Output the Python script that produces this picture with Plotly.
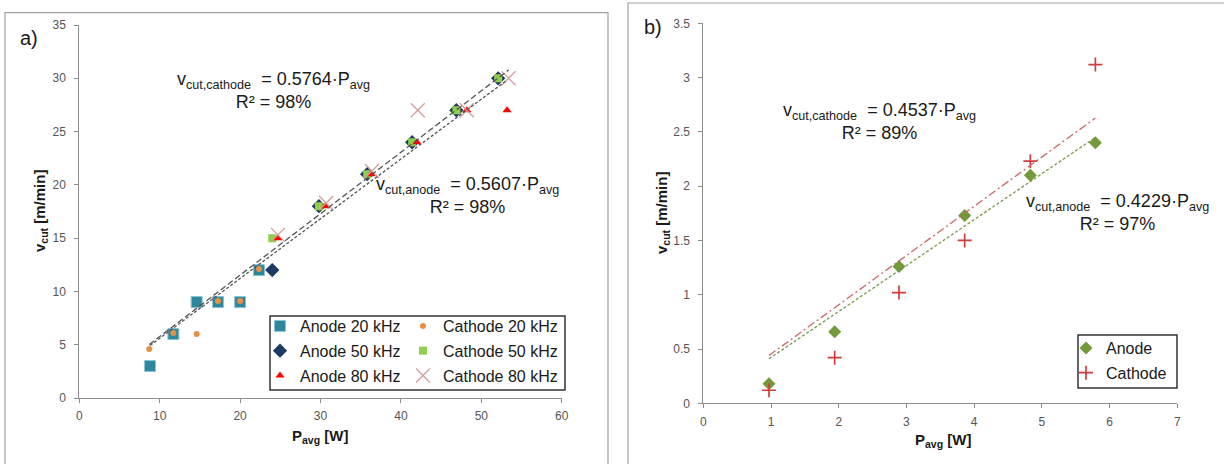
import plotly.graph_objects as go

W, H = 1224, 464

# ---------------- data: panel a ----------------
a20_x = [8.8, 11.7, 14.6, 17.25, 20.0, 22.35]
a20_y = [3.0, 6.0, 9.0, 9.0, 9.0, 12.0]
c20_x = [8.7, 11.7, 14.6, 17.25, 20.0, 22.35]
c20_y = [4.6, 6.1, 6.0, 9.1, 9.1, 12.1]
a50_x = [24.0, 29.8, 35.8, 41.4, 46.9, 52.1]
a50_y = [12.0, 18.0, 21.0, 24.0, 27.0, 30.0]
c50_x = [24.0, 29.8, 35.8, 41.4, 46.9, 52.1]
c50_y = [15.0, 18.0, 21.0, 24.0, 27.0, 30.0]
a80_x = [24.7, 30.6, 36.3, 42.0, 48.2, 53.2]
a80_y = [15.0, 18.0, 21.0, 24.0, 27.0, 27.0]
c80_x = [24.7, 30.7, 36.4, 42.1, 48.2, 53.4]
c80_y = [15.3, 18.3, 21.3, 27.0, 27.0, 30.0]
slope_a_cathode = 0.5764
slope_a_anode = 0.5607

# ---------------- data: panel b ----------------
b_x = [0.97, 1.94, 2.89, 3.86, 4.83, 5.79]
b_anode = [0.18, 0.66, 1.26, 1.73, 2.10, 2.40]
b_cathode = [0.12, 0.42, 1.02, 1.50, 2.23, 3.12]
slope_b_cathode = 0.4537
slope_b_anode = 0.4229

x_ticks_a = list(range(0, 61, 10))
y_ticks_a = list(range(0, 36, 5))
x_ticks_b = list(range(0, 8))
y_ticks_b = [0, 0.5, 1, 1.5, 2, 2.5, 3, 3.5]


def fx(px):
    return px / W


def fy(py):
    return 1 - py / H


FONT = "Liberation Sans, Arial, sans-serif"
fig = go.Figure()

# panel a scatter traces (Excel series order)
fig.add_trace(go.Scatter(x=a20_x, y=a20_y, mode="markers", name="Anode 20 kHz",
                         legend="legend", legendgroup="a20",
                         marker=dict(symbol="square", size=11, color="#2f879d",
                                     line=dict(color="#8cc3d2", width=1)),
                         xaxis="x", yaxis="y"))
fig.add_trace(go.Scatter(x=c20_x, y=c20_y, mode="markers", name="Cathode 20 kHz",
                         legend="legend2", legendgroup="c20",
                         marker=dict(symbol="circle", size=6, color="#e98f45"),
                         xaxis="x", yaxis="y"))
fig.add_trace(go.Scatter(x=a50_x, y=a50_y, mode="markers", name="Anode 50 kHz",
                         legend="legend", legendgroup="a50",
                         marker=dict(symbol="diamond", size=11, color="#1c3a64"),
                         xaxis="x", yaxis="y"))
fig.add_trace(go.Scatter(x=c50_x, y=c50_y, mode="markers", name="Cathode 50 kHz",
                         legend="legend2", legendgroup="c50",
                         marker=dict(symbol="square", size=8, color="#8fcf4c"),
                         xaxis="x", yaxis="y"))
fig.add_trace(go.Scatter(x=a80_x, y=a80_y, mode="markers", name="Anode 80 kHz",
                         legend="legend", legendgroup="a80",
                         marker=dict(symbol="triangle-up", size=8, color="#ff0000"),
                         xaxis="x", yaxis="y"))
fig.add_trace(go.Scatter(x=c80_x, y=c80_y, mode="markers", name="Cathode 80 kHz",
                         legend="legend2", legendgroup="c80",
                         marker=dict(symbol="x-thin-open", size=14, color="#d49a9a",
                                     line=dict(color="#d49a9a", width=1.2)),
                         xaxis="x", yaxis="y"))

# panel a trendlines (through origin, over data range)
cat_a_x = c20_x + c50_x + c80_x
an_a_x = a20_x + a50_x + a80_x
xa_c = [min(cat_a_x), max(cat_a_x)]
xa_a = [min(an_a_x), max(an_a_x)]
fig.add_trace(go.Scatter(x=xa_c, y=[slope_a_cathode * v for v in xa_c], mode="lines",
                         showlegend=False, hoverinfo="skip",
                         line=dict(color="#555555", width=1.3, dash="6px,3px"),
                         xaxis="x", yaxis="y"))
fig.add_trace(go.Scatter(x=xa_a, y=[slope_a_anode * v for v in xa_a], mode="lines",
                         showlegend=False, hoverinfo="skip",
                         line=dict(color="#555555", width=1.3, dash="3px,2px"),
                         xaxis="x", yaxis="y"))

# panel b
fig.add_trace(go.Scatter(x=b_x, y=b_anode, mode="markers", name="Anode",
                         legend="legend3", legendgroup="ba",
                         marker=dict(symbol="diamond", size=10, color="#73993a"),
                         xaxis="x2", yaxis="y2"))
fig.add_trace(go.Scatter(x=b_x, y=b_cathode, mode="markers", name="Cathode",
                         legend="legend3", legendgroup="bc",
                         marker=dict(symbol="cross-thin-open", size=10, color="#d23c3c",
                                     line=dict(color="#d23c3c", width=1.7)),
                         xaxis="x2", yaxis="y2"))
xb = [min(b_x), max(b_x)]
fig.add_trace(go.Scatter(x=xb, y=[slope_b_cathode * v for v in xb], mode="lines",
                         showlegend=False, hoverinfo="skip",
                         line=dict(color="#c9676a", width=1.3, dash="8px,3px,2px,3px"),
                         xaxis="x2", yaxis="y2"))
fig.add_trace(go.Scatter(x=xb, y=[slope_b_anode * v for v in xb], mode="lines",
                         showlegend=False, hoverinfo="skip",
                         line=dict(color="#7b9a48", width=1.3, dash="3px,2px"),
                         xaxis="x2", yaxis="y2"))

axis_common = dict(showline=True, linecolor="#8c8c8c", linewidth=1, ticks="outside",
                   tickcolor="#8c8c8c", ticklen=4, showgrid=False, zeroline=False,
                   tickfont=dict(family=FONT, size=12, color="#555555"), fixedrange=True)

leg_font = dict(family=FONT, size=16, color="#1a1a1a")
fig.update_layout(
    width=W, height=H, autosize=False,
    margin=dict(l=0, r=0, t=0, b=0, pad=0, autoexpand=False),
    paper_bgcolor="white", plot_bgcolor="white",
    font=dict(family=FONT, color="#1a1a1a"),
    xaxis=dict(domain=[fx(79.3), fx(561.7)], range=[0, 60], tickvals=x_ticks_a,
               anchor="y", ticklabelstandoff=3, **axis_common),
    yaxis=dict(domain=[fy(398), fy(25)], range=[0, 35], tickvals=y_ticks_a,
               anchor="x", ticklabelstandoff=6, **axis_common),
    xaxis2=dict(domain=[fx(703.3), fx(1177.3)], range=[0, 7], tickvals=x_ticks_b,
                anchor="y2", ticklabelstandoff=3, **axis_common),
    yaxis2=dict(domain=[fy(403.3), fy(23.3)], range=[0, 3.5], tickvals=y_ticks_b,
                anchor="x2", ticklabelstandoff=6, **axis_common),
    legend=dict(x=fx(260), y=fy(309), xanchor="left", yanchor="top", font=leg_font,
                bgcolor="rgba(0,0,0,0)", borderwidth=0, tracegroupgap=1),
    legend2=dict(x=fx(403), y=fy(309), xanchor="left", yanchor="top", font=leg_font,
                 bgcolor="rgba(0,0,0,0)", borderwidth=0, tracegroupgap=1),
    legend3=dict(x=fx(1066), y=fy(331), xanchor="left", yanchor="top", font=leg_font,
                 bgcolor="rgba(0,0,0,0)", borderwidth=0, tracegroupgap=1),
    showlegend=True,
)

# panel borders and legend boxes
fig.add_shape(type="rect", xref="paper", yref="paper", x0=fx(5), x1=fx(608),
              y0=-0.05, y1=fy(12.7), line=dict(color="#a0a0a0", width=1.2), layer="below")
fig.add_shape(type="rect", xref="paper", yref="paper", x0=fx(628), x1=1.05,
              y0=-0.05, y1=fy(3), line=dict(color="#a0a0a0", width=1.2), layer="below")
fig.add_shape(type="rect", xref="paper", yref="paper", x0=fx(270), x1=fx(565),
              y0=fy(390), y1=fy(316), line=dict(color="#333333", width=1.5),
              fillcolor="white", layer="below")
fig.add_shape(type="rect", xref="paper", yref="paper", x0=fx(1078), x1=fx(1177),
              y0=fy(388), y1=fy(335), line=dict(color="#333333", width=1.5),
              fillcolor="white", layer="below")

ann_font = dict(family=FONT, size=18, color="#1a1a1a")
NB = "\u00a0"
annotations = [
    dict(text="a)", x=fx(29), y=fy(38), font=dict(family=FONT, size=20, color="#1a1a1a")),
    dict(text="b)", x=fx(653), y=fy(27), font=dict(family=FONT, size=20, color="#1a1a1a")),
    dict(text=f"v<sub>cut,cathode</sub>{NB}{NB}= 0.5764·P<sub>avg</sub><br>R² = 98%",
         x=fx(273), y=fy(91), font=ann_font),
    dict(text=f"v<sub>cut,anode</sub>{NB}{NB}= 0.5607·P<sub>avg</sub><br>R² = 98%",
         x=fx(468), y=fy(195), font=ann_font),
    dict(text=f"v<sub>cut,cathode</sub>{NB}{NB}= 0.4537·P<sub>avg</sub><br>R² = 89%",
         x=fx(879), y=fy(121), font=ann_font),
    dict(text=f"v<sub>cut,anode</sub>{NB}{NB}= 0.4229·P<sub>avg</sub><br>R² = 97%",
         x=fx(1117), y=fy(212), font=ann_font),
    dict(text="<b>v<sub>cut</sub> [m/min]</b>", x=fx(41), y=fy(211), textangle=-90,
         font=dict(family=FONT, size=15, color="#1a1a1a")),
    dict(text="<b>P<sub>avg</sub> [W]</b>", x=fx(320), y=fy(436),
         font=dict(family=FONT, size=15, color="#1a1a1a")),
    dict(text="<b>v<sub>cut</sub> [m/min]</b>", x=fx(662), y=fy(213), textangle=-90,
         font=dict(family=FONT, size=15, color="#1a1a1a")),
    dict(text="<b>P<sub>avg</sub> [W]</b>", x=fx(943), y=fy(440),
         font=dict(family=FONT, size=15, color="#1a1a1a")),
]
for a in annotations:
    a.update(xref="paper", yref="paper", showarrow=False, xanchor="center", yanchor="middle")
fig.update_layout(annotations=annotations)

fig.write_html("out.html", config={"displayModeBar": False},
               post_script="document.body.style.margin='0';document.body.style.overflow='hidden';")
